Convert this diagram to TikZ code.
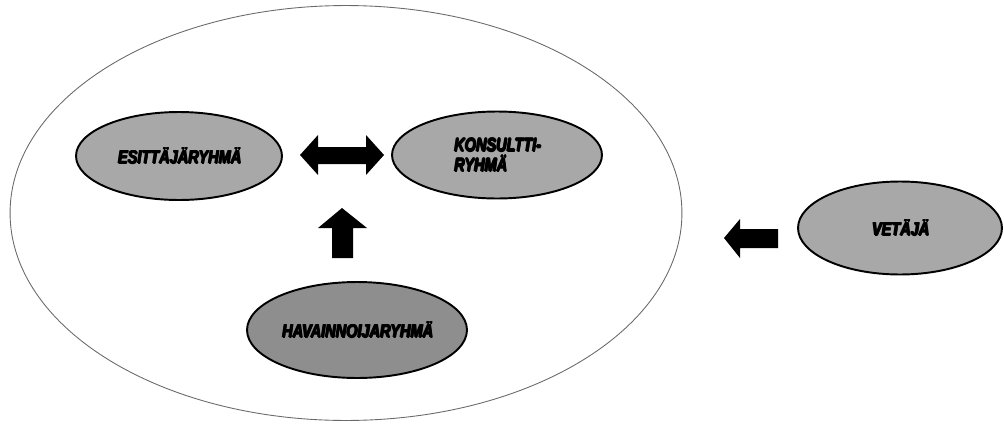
\documentclass[tikz,border=0pt]{standalone}
\usepackage{fontspec}
\usetikzlibrary{shapes.geometric}
\newfontfamily\lbl[FakeStretch=0.78]{Liberation Sans}
\newcommand\heavytxt[1]{\rlap{\hspace{0.4pt}#1}\rlap{\hspace{0.8pt}#1}\rlap{\raisebox{0.35pt}{\hspace{0.4pt}#1}}\rlap{\raisebox{-0.3pt}{\hspace{0.6pt}#1}}#1}
\definecolor{ellfill}{HTML}{A8A8A8}
\definecolor{elldark}{HTML}{8E8E8E}
\definecolor{bigline}{HTML}{6A6A6A}
\begin{document}
\begin{tikzpicture}[x=0.02cm,y=-0.02cm,
  grp/.style={ellipse,draw=black,line width=1.1pt,fill=ellfill,inner sep=0pt,
    font=\lbl\bfseries\itshape\fontsize{10.6}{11.4}\selectfont,align=left},
  blockarrow/.style={fill=black}]
\useasboundingbox (0,0) rectangle (1004,423);
\node[ellipse,draw=bigline,line width=0.5pt,minimum width=13.44cm,minimum height=8.3cm,inner sep=0pt] (big) at (346,213) {};
\node[grp,minimum width=4.12cm,minimum height=1.76cm] (esit) at (179,156) {\heavytxt{ESITTÄJÄRYHMÄ}};
\node[grp,minimum width=4.2cm,minimum height=1.74cm] (kons) at (497,155) {\heavytxt{KONSULTTI-}\\\heavytxt{RYHMÄ}};
\node[grp,fill=elldark,minimum width=4.4cm,minimum height=1.92cm] (hav) at (357,330) {\heavytxt{HAVAINNOIJARYHMÄ}};
\node[grp,minimum width=4.08cm,minimum height=1.86cm] (vet) at (900,228) {\heavytxt{VETÄJÄ}};
% double arrow between esit and kons
\fill[blockarrow] (300,155) -- (318,135) -- (318,147) -- (366,147) -- (366,135) -- (384,155)
  -- (366,175) -- (366,164) -- (318,164) -- (318,175) -- cycle;
% up arrow from hav
\fill[blockarrow] (342,208) -- (367,228) -- (353,228) -- (353,258) -- (332,258) -- (332,228) -- (318,228) -- cycle;
% left arrow from vet
\fill[blockarrow] (724,238) -- (740,219) -- (740,229) -- (778,229) -- (778,248) -- (740,248) -- (740,258) -- cycle;
\end{tikzpicture}
\end{document}
